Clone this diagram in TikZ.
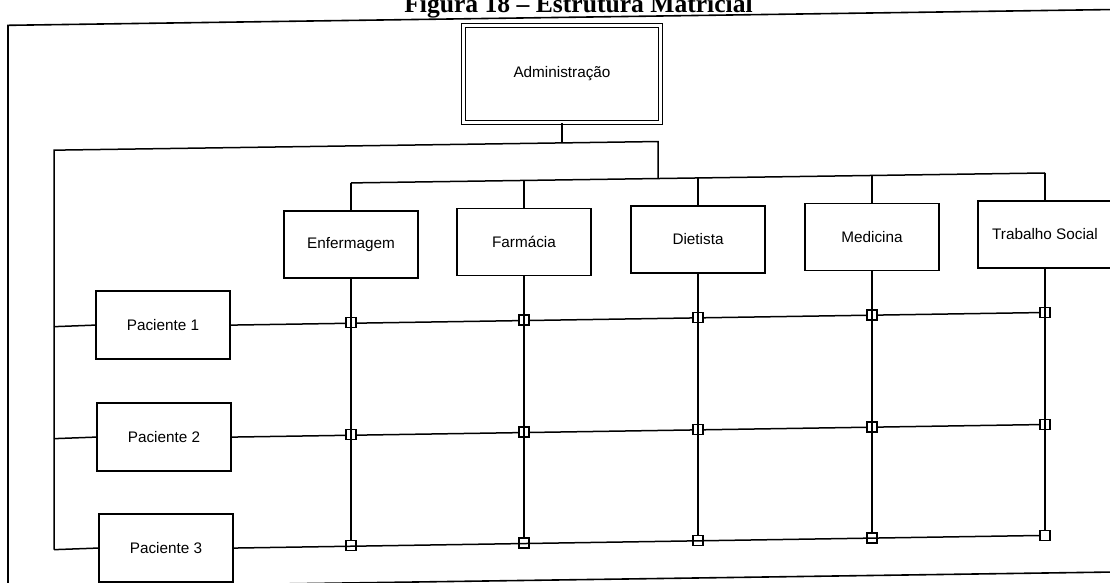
\documentclass[tikz,border=0pt]{standalone}
\usepackage{fontspec}
\setmainfont{Liberation Sans}
\newfontfamily\titlefont{Liberation Serif}
\usetikzlibrary{backgrounds}
\begin{document}
\begin{tikzpicture}[x=1pt,y=-1pt,
  box/.style={draw, line width=1.5pt, minimum width=134pt, minimum height=67pt, inner sep=0pt, font=\fontsize{15.3}{18}\selectfont},
  pbox/.style={box, minimum height=68pt},
  adm/.style={draw, double, double distance=2.4pt, line width=1.2pt, minimum width=197pt, minimum height=97pt, inner sep=0pt, font=\fontsize{15.3}{18}\selectfont},
  sq/.style={draw, fill=white, line width=1.4pt, minimum size=10pt, inner sep=0pt},
  conn/.style={line width=1.5pt},
  outerframe/.style={line width=1.6pt}]
\useasboundingbox (0,0) rectangle (1110,583);
\node[anchor=base, font=\titlefont\bfseries\fontsize{25.6}{30}\selectfont] (title) at (578.5,12.5) {Figura 18 – Estrutura Matricial};
\begin{scope}[shift={(555,0)}, yslant=0.0143, shift={(-555,0)}]
  % outer frame
  \draw[outerframe] (8,17.5) -- (1130,17.5) -- (1130,580) -- (8,580) -- cycle;
  % nodes
  \node[adm] (adm) at (562,74.1) {Administração};
  \node[box] (enf) at (351,241.5) {Enfermagem};
  \node[box] (far) at (524,241.5) {Farmácia};
  \node[box] (die) at (698,241.5) {Dietista};
  \node[box] (med) at (872,241.5) {Medicina};
  \node[box] (ts) at (1045,241.5) {Trabalho Social};
  \node[pbox] (p1) at (163,319.5) {Paciente 1};
  \node[pbox] (p2) at (164,431.5) {Paciente 2};
  \node[pbox] (p3) at (166,542.5) {Paciente 3};
  % junction squares
  \foreach \c/\x in {1/351,2/524,3/698,4/872,5/1045}{
    \foreach \r/\y in {1/319.5,2/431.5,3/542.5}{
      \node[sq] (s\r\c) at (\x,\y) {};
    }
  }
  % coordinates of the buses
  \coordinate (a1) at (562,143);
  \coordinate (lt) at (54,143);
  \coordinate (ht) at (658,143);
  \coordinate (hb) at (658,180);
  \coordinate (b1) at (351,180);
  \coordinate (b2) at (524,180);
  \coordinate (b3) at (698,180);
  \coordinate (b4) at (872,180);
  \coordinate (b5) at (1045,180);
  \coordinate (l1) at (54,319.5);
  \coordinate (l2) at (54,431.5);
  \coordinate (l3) at (54,542.5);
  % tree connectors
  \draw[conn] (adm.south) -- (a1);
  \draw[conn] (l3) -- (lt) -- (ht) -- (hb);
  \draw[conn] (l1) -- (p1.west);
  \draw[conn] (l2) -- (p2.west);
  \draw[conn] (l3) -- (p3.west);
  \draw[conn] (b1) -- (b5);
  \draw[conn] (enf.north) -- (b1);
  \draw[conn] (far.north) -- (b2);
  \draw[conn] (die.north) -- (b3);
  \draw[conn] (med.north) -- (b4);
  \draw[conn] (ts.north) -- (b5);
  % matrix rows 1 and 2 behind the squares
  \begin{pgfonlayer}{background}
    \draw[conn] (p1.east) -- (s15.center);
    \draw[conn] (p2.east) -- (s25.center);
  \end{pgfonlayer}
  % matrix columns
  \draw[conn] (enf.south) -- (s31.north);
  \draw[conn] (far.south) -- (s32.north);
  \draw[conn] (die.south) -- (s33.north);
  \draw[conn] (med.south) -- (s34.north);
  \draw[conn] (ts.south) -- (s35.north);
  % matrix row 3
  \draw[conn] (p3.east) -- (s35.west);
\end{scope}
\end{tikzpicture}
\end{document}
